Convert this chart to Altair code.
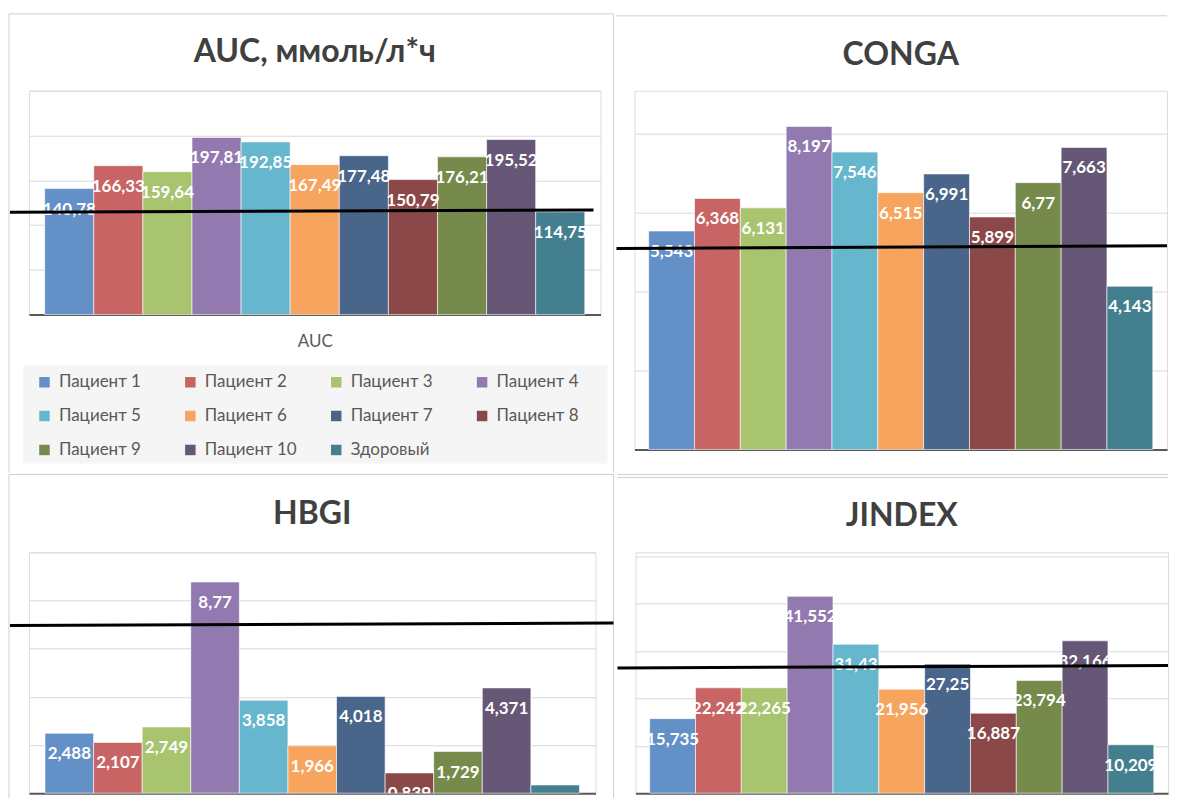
import altair as alt
import pandas as pd

# ---------------- data ----------------
patients = ["Пациент 1", "Пациент 2", "Пациент 3", "Пациент 4", "Пациент 5",
            "Пациент 6", "Пациент 7", "Пациент 8", "Пациент 9", "Пациент 10",
            "Здоровый"]
colors = ["#6490C8", "#C86464", "#A8C46E", "#927AB0", "#66B6CD", "#F6A45E",
          "#496589", "#8A4849", "#768A4C", "#665776", "#447F8F"]

auc_values = [140.78, 166.33, 159.64, 197.81, 192.85, 167.49, 177.48, 150.79, 176.21, 195.52, 114.75]
conga_values = [5.543, 6.368, 6.131, 8.197, 7.546, 6.515, 6.991, 5.899, 6.77, 7.663, 4.143]
hbgi_values = [2.488, 2.107, 2.749, 8.77, 3.858, 1.966, 4.018, 0.839, 1.729, 4.371, 0.34]
jindex_values = [15.735, 22.242, 22.265, 41.552, 31.43, 21.956, 27.25, 16.887, 23.794, 32.166, 10.209]

# hand-drawn reference lines (value at left end, value at right end)
auc_line = [114.2, 116.9]
conga_line = [5.10, 5.17]
hbgi_line = [6.96, 7.07]
jindex_line = [26.43, 26.94]

auc_ticks = [0, 50, 100, 150, 200, 250]
conga_ticks = [0, 1, 2, 3, 4, 5, 6, 7, 8, 9]
hbgi_ticks = [0, 2, 4, 6, 8, 10]
jindex_ticks = [0, 10, 20, 30, 40, 50]

FONT = "Lato"
FRAME = "#CFCFCF"


def seg(x1, x2, y1, y2):
    d = pd.DataFrame({"k": [0]})
    if x1 == x2:
        enc = dict(x=alt.value(x1), y=alt.value(y1), y2=alt.value(y2))
    else:
        enc = dict(x=alt.value(x1), x2=alt.value(x2), y=alt.value(y1))
    return alt.Chart(d).mark_rule(color=FRAME, strokeWidth=1).encode(**enc)


def panel(title, values, line, ticks, ymax, width, height, line_x, frames,
          title_offset, x_title=None, legend=False, pad_outer=0.32):
    df = pd.DataFrame({
        "patient": patients,
        "value": values,
        "label": [str(v).replace(".", ",") for v in values],
    })
    x_axis = alt.Axis(labels=False, ticks=False, domain=True, grid=False,
                      domainColor="#595959", domainWidth=2,
                      title=x_title if x_title else None,
                      titleFont=FONT, titleFontSize=17, titleFontWeight="normal",
                      titleColor="#595959", titlePadding=19)
    y_axis = alt.Axis(values=ticks, labels=False, ticks=False, domain=False,
                      grid=True, gridColor="#D9D9D9", gridWidth=1, title=None)
    xs = alt.Scale(paddingInner=0, paddingOuter=pad_outer)
    ys = alt.Scale(domain=[0, ymax], nice=False, zero=True)
    if legend:
        leg = alt.Legend(orient="none", legendX=7, legendY=283, columns=4,
                         direction="horizontal",
                         title=None, symbolType="square", symbolSize=110,
                         symbolStrokeWidth=0, symbolOpacity=1,
                         labelFont=FONT, labelFontSize=17, labelColor="#595959",
                         labelOffset=6, rowPadding=16, columnPadding=31,
                         gridAlign="all", padding=0, labelLimit=200)
    else:
        leg = None
    color = alt.Color("patient:N", sort=patients,
                      scale=alt.Scale(domain=patients, range=colors), legend=leg)

    base = alt.Chart(df)
    bars = base.mark_bar(stroke="white", strokeWidth=1, strokeOpacity=0.6).encode(
        x=alt.X("patient:N", sort=patients, scale=xs, axis=x_axis),
        y=alt.Y("value:Q", scale=ys, axis=y_axis),
        color=color,
    )
    # labels sit inside the bar top; a bar too short to hold one shows none
    text = base.transform_filter(f"datum.value >= {ymax * 0.05}").mark_text(
        color="white", font=FONT, fontSize=17, fontWeight="bold",
        baseline="middle", dy=21, clip=True).encode(
        x=alt.X("patient:N", sort=patients),
        y=alt.Y("value:Q"),
        text="label:N",
    )
    ldf = pd.DataFrame({"y1": [line[0]], "y2": [line[1]]})
    rule = alt.Chart(ldf).mark_rule(color="black", strokeWidth=3).encode(
        x=alt.value(line_x[0]), x2=alt.value(line_x[1]),
        y=alt.Y("y1:Q", title=None), y2="y2:Q",
    )
    layers = [seg(*f) for f in frames]
    if legend:
        bg = alt.Chart(pd.DataFrame({"k": [0]})).mark_rect(color="#F5F5F5").encode(
            x=alt.value(-6), x2=alt.value(579), y=alt.value(275), y2=alt.value(373))
        layers.append(bg)
    layers += [bars, text, rule]
    return alt.layer(*layers).properties(
        width=width, height=height,
        title=alt.TitleParams(text=title, font=FONT, fontSize=32, fontWeight="bold",
                              color="#404040", anchor="middle", frame="group",
                              baseline="alphabetic", offset=title_offset),
    )


auc = panel("AUC, ммоль/л*ч", auc_values, auc_line, auc_ticks, 250, 572, 224,
            line_x=(-19, 565),
            frames=[(-20, -20, -77, 382), (-20, 585, -77, -77), (585, 585, -77, 382)],
            title_offset=-81, x_title="AUC", legend=True)
conga = panel("CONGA", conga_values, conga_line, conga_ticks, 9.1014, 533, 359,
              line_x=(-18, 533),
              frames=[(-18, 533, -75, -75)],
              title_offset=-82, pad_outer=0.31)
hbgi = panel("HBGI", hbgi_values, hbgi_line, hbgi_ticks, 10, 567, 241,
             line_x=(-19, 585),
             frames=[(-20, -20, -78, 246), (-20, 585, -78, -78), (585, 585, -78, 246)],
             title_offset=-82, pad_outer=0.33)
jindex = panel("JINDEX", jindex_values, jindex_line, jindex_ticks, 50.84, 533, 241,
               line_x=(-18, 533),
               frames=[(-18, 533, -78, -78), (-18, 533, -75, -75)],
               title_offset=-84, pad_outer=0.31)

top = alt.hconcat(auc, conga, spacing=0).resolve_scale(
    x="independent", y="independent", color="independent").resolve_legend(color="independent")
bottom = alt.hconcat(hbgi, jindex, spacing=0).resolve_scale(
    x="independent", y="independent", color="independent").resolve_legend(color="independent")

chart = alt.vconcat(top, bottom, spacing=0).resolve_scale(
    x="independent", y="independent", color="independent").resolve_legend(
    color="independent").properties(
    padding={"left": 0, "top": 4.5, "right": 0, "bottom": 0},
    background="white",
).configure_view(strokeWidth=0).configure(font=FONT)

chart.save("out.html", embed_options={"renderer": "svg", "actions": False})
